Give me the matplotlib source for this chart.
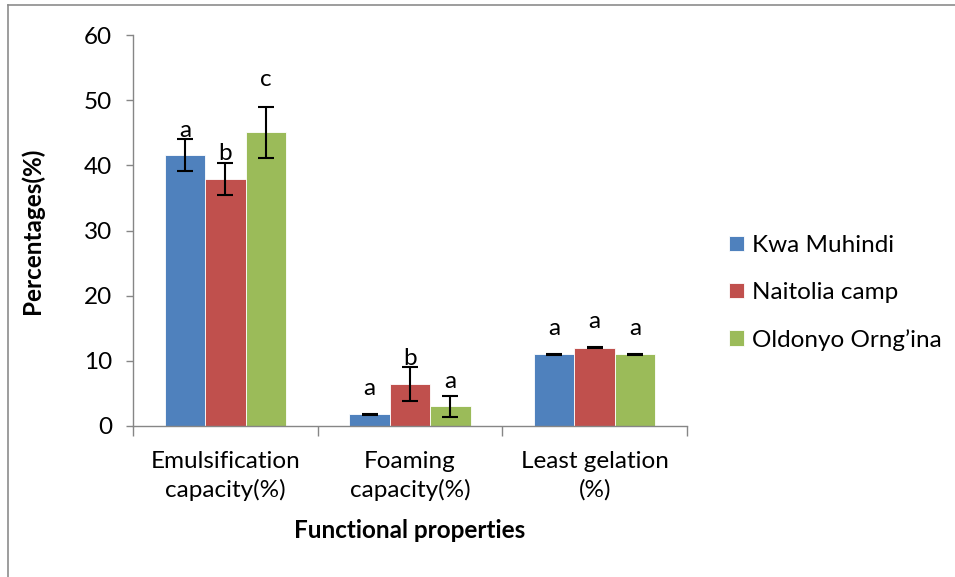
import matplotlib
matplotlib.use("Agg")
import matplotlib.pyplot as plt
import numpy as np
from matplotlib.lines import Line2D

categories = ["Emulsification\ncapacity(%)", "Foaming\ncapacity(%)", "Least gelation\n(%)"]
series_names = ["Kwa Muhindi", "Naitolia camp", "Oldonyo Orng\u2019ina"]
kwa_muhindi = [41.6, 1.8, 11.0]
naitolia_camp = [37.9, 6.5, 12.0]
oldonyo = [45.1, 3.0, 11.0]
kwa_err = [2.4, 0.1, 0.1]
naitolia_err = [2.5, 2.6, 0.1]
oldonyo_err = [3.9, 1.6, 0.1]
kwa_letters = ["a", "a", "a"]
naitolia_letters = ["b", "b", "a"]
oldonyo_letters = ["c", "a", "a"]

values = [kwa_muhindi, naitolia_camp, oldonyo]
errors = [kwa_err, naitolia_err, oldonyo_err]
letters = [kwa_letters, naitolia_letters, oldonyo_letters]
colors = ["#4F81BD", "#C0504D", "#9BBB59"]
# extra vertical gap (data units) between top of error bar and letter baseline
letter_gap = [[0.4, 2.9, 2.9], [0.4, 0.3, 2.9], [3.2, 1.3, 2.9]]

plt.rcParams['font.family'] = ['Lato', 'DejaVu Sans']
FS = 17.5

fig = plt.figure(figsize=(9.55, 5.77), dpi=100)
W, H = 955, 577
ax = fig.add_axes([133 / W, 1 - 426 / H, (687 - 133) / W, (426 - 35) / H])

x = np.arange(len(categories))
bw = 0.219
for i in range(3):
    pos = x + (i - 1) * bw
    ax.bar(pos, values[i], width=bw, color=colors[i], edgecolor="white",
           linewidth=0.6, label=series_names[i], zorder=2)
    ax.errorbar(pos, values[i], yerr=errors[i], fmt="none", ecolor="black",
                elinewidth=1.5, capsize=6, capthick=1.5, zorder=3)
    for j in range(3):
        ytop = values[i][j] + errors[i][j] + letter_gap[i][j]
        ax.text(pos[j], ytop, letters[i][j], ha="center", va="baseline",
                fontsize=17.5, zorder=4)

axis_col = "#868686"
ax.set_xlim(-0.5, 2.5)
ax.set_ylim(0, 60)
ax.set_yticks(np.arange(0, 61, 10))
ax.set_xticks(x)
ax.set_xticklabels(categories, fontsize=FS, linespacing=1.38)
ax.set_xticks([-0.5, 0.5, 1.5, 2.5], minor=True)
ax.tick_params(axis="x", which="major", length=0, pad=18)
ax.tick_params(axis="x", which="minor", length=7, width=1, color=axis_col, direction="out")
ax.tick_params(axis="y", length=5, width=1, color=axis_col, labelsize=FS, pad=10)
for s in ["top", "right"]:
    ax.spines[s].set_visible(False)
for s in ["left", "bottom"]:
    ax.spines[s].set_color(axis_col)
    ax.spines[s].set_linewidth(1)

ax.set_ylabel("Percentages(%)", fontsize=FS, fontweight="bold")
ax.yaxis.set_label_coords(-(133 - 44) / (687 - 133), 0.5)
ax.set_xlabel("Functional properties", fontsize=FS, fontweight="bold")
ax.xaxis.set_label_coords(0.5, -(531 - 426) / (426 - 35))
ax.xaxis.label.set_va("center")

handles, labels = ax.get_legend_handles_labels()
fs_px = FS * 100 / 72
leg = fig.legend(handles, labels, loc="center left",
                 bbox_to_anchor=((729 - 0.4 * fs_px) / W, 1 - 293 / H),
                 borderaxespad=0, frameon=False, fontsize=FS,
                 handlelength=0.62, handleheight=0.62,
                 handletextpad=0.33, labelspacing=1.07)

# outer chart border (top and left visible)
fig.add_artist(Line2D([8 / W, 1], [1 - 5 / H, 1 - 5 / H], color="#8c8c8c", lw=1.2))
fig.add_artist(Line2D([8 / W, 8 / W], [1 - 5 / H, 0], color="#8c8c8c", lw=1.2))

fig.savefig("out.png", dpi=100)
